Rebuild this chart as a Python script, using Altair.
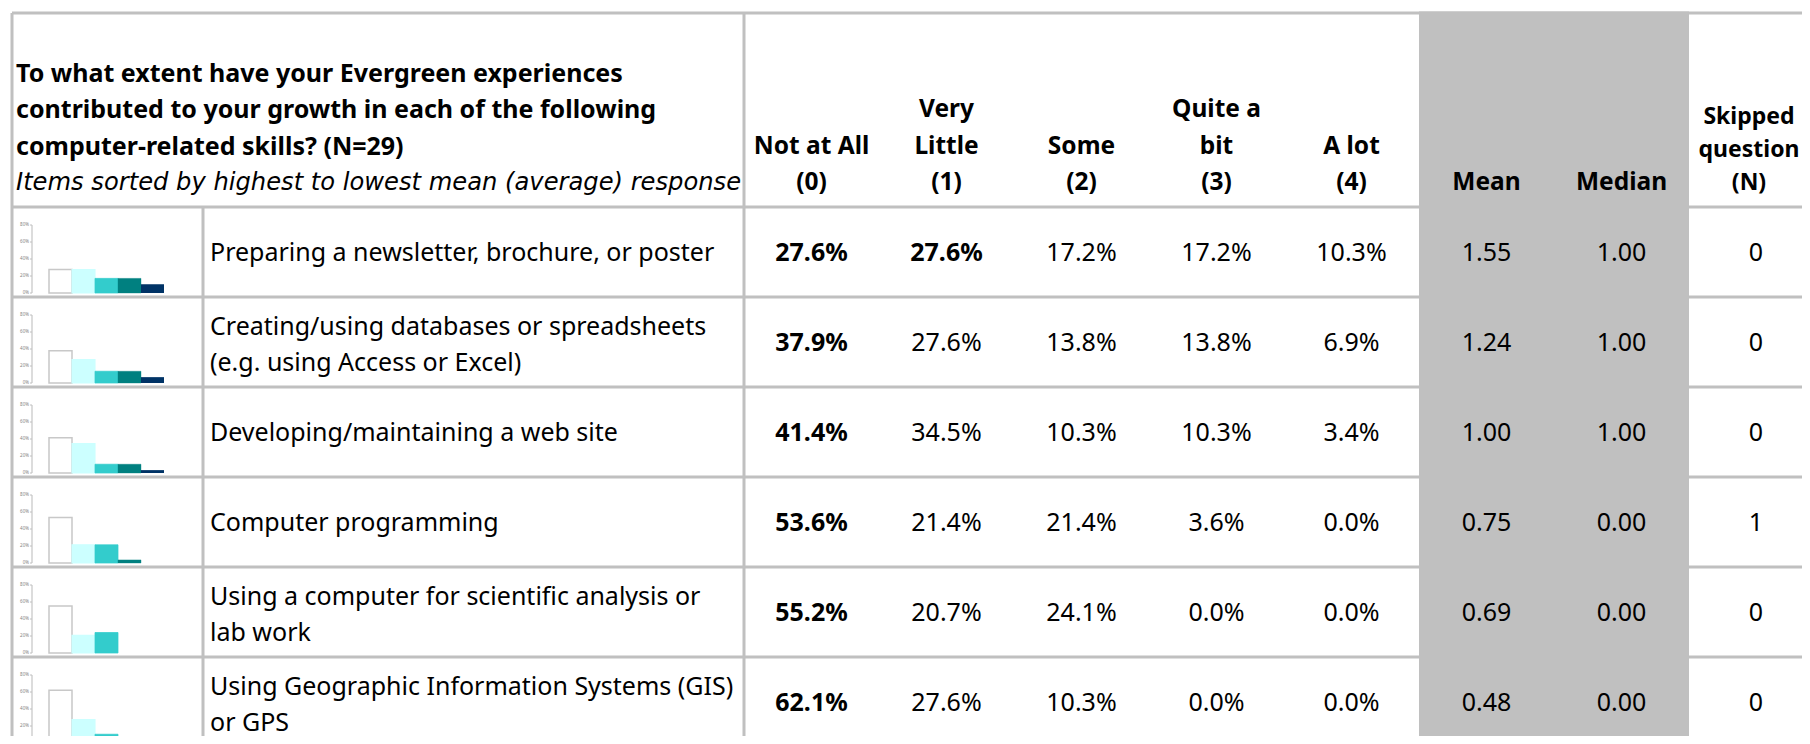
import altair as alt
import pandas as pd

# ---------------- data ----------------
items = [
    ["Preparing a newsletter, brochure, or poster"],
    ["Creating/using databases or spreadsheets", "(e.g. using Access or Excel)"],
    ["Developing/maintaining a web site"],
    ["Computer programming"],
    ["Using a computer for scientific analysis or", "lab work"],
    ["Using Geographic Information Systems (GIS)", "or GPS"],
]
not_at_all = [27.6, 37.9, 41.4, 53.6, 55.2, 62.1]
very_little = [27.6, 27.6, 34.5, 21.4, 20.7, 27.6]
some = [17.2, 13.8, 10.3, 21.4, 24.1, 10.3]
quite_a_bit = [17.2, 13.8, 10.3, 3.6, 0.0, 0.0]
a_lot = [10.3, 6.9, 3.4, 0.0, 0.0, 0.0]
mean = [1.55, 1.24, 1.00, 0.75, 0.69, 0.48]
median = [1.00, 1.00, 1.00, 0.00, 0.00, 0.00]
skipped = [0, 0, 0, 1, 0, 0]

categories = ["Not at All (0)", "Very Little (1)", "Some (2)", "Quite a bit (3)", "A lot (4)"]
header_cols = [
    ["Not at All", "(0)"],
    ["Very", "Little", "(1)"],
    ["Some", "(2)"],
    ["Quite a", "bit", "(3)"],
    ["A lot", "(4)"],
    ["Mean"],
    ["Median"],
]
skipped_header = ["Skipped", "question", "(N)"]
question_lines = [
    "To what extent have your Evergreen experiences",
    "contributed to your growth in each of the following",
    "computer-related skills? (N=29)",
]
note_line = "Items sorted by highest to lowest mean (average) response"
mini_ticks = [0, 20, 40, 60, 80]

# ---------------- layout ----------------
PAGE = 8
W, H = 1794, 728
TOP = 13
HEAD_BOTTOM = 207
ROW_H = 90
LEFT = 12
CHART_DIV = 203
LABEL_DIV = 744
COL_W = 135
RIGHT = 1812
BOTTOM = 746
LINE_H = 36.5
HEAD_LAST = 183
SKIP_LINE_H = 33
SKIP_HEAD_X = 1749
ROW_LINE_H = 36
BAR_X0 = 49
BAR_W = 23
BASE_OFF = 86
PX_PER_PCT = 0.85
AXIS_X = 32

FONT = "Noto Sans"
GRID = "#c0c0c0"

pct = [not_at_all, very_little, some, quite_a_bit, a_lot]
n_rows = len(items)


def col_center(j):
    return LABEL_DIV + COL_W * (j + 0.5)


# grid lines
hlines = [TOP] + [HEAD_BOTTOM + k * ROW_H for k in range(n_rows + 1)]
grid_df = pd.DataFrame(
    [dict(x=LEFT, x2=RIGHT, y=y, y2=y) for y in hlines]
    + [
        dict(x=LEFT, x2=LEFT, y=TOP, y2=BOTTOM),
        dict(x=LABEL_DIV, x2=LABEL_DIV, y=TOP, y2=BOTTOM),
        dict(x=CHART_DIV, x2=CHART_DIV, y=HEAD_BOTTOM, y2=BOTTOM),
    ]
)
gray_df = pd.DataFrame([dict(x=LABEL_DIV + 5 * COL_W, x2=LABEL_DIV + 7 * COL_W, y=TOP - 1.5, y2=BOTTOM)])

# header texts
head_rows = []
for k, t in enumerate(question_lines):
    head_rows.append(dict(x=16, y=HEAD_LAST - (len(question_lines) - k) * LINE_H, t=t))
head_left = pd.DataFrame(head_rows)
note_df = pd.DataFrame([dict(x=16, y=HEAD_LAST, t=note_line)])
hc = []
for j, lines in enumerate(header_cols):
    n = len(lines)
    for k, t in enumerate(lines):
        hc.append(dict(x=col_center(j), y=HEAD_LAST - (n - 1 - k) * LINE_H, t=t))
head_cols_df = pd.DataFrame(hc)
skip_head_df = pd.DataFrame([
    dict(x=SKIP_HEAD_X, y=HEAD_LAST - (len(skipped_header) - 1 - k) * SKIP_LINE_H, t=t)
    for k, t in enumerate(skipped_header)
])

# row labels
lab = []
for i, lines in enumerate(items):
    c = HEAD_BOTTOM + ROW_H * (i + 0.5) + 1
    n = len(lines)
    for k, t in enumerate(lines):
        lab.append(dict(x=210, y=c + (k - (n - 1) / 2) * ROW_LINE_H + (2 if n > 1 else 0), t=t))
labels_df = pd.DataFrame(lab)

# values
vals = []
bars = []
ticks = []
for i in range(n_rows):
    top = HEAD_BOTTOM + ROW_H * i
    c = top + ROW_H / 2 + 1
    rowmax = max(p[i] for p in pct)
    for j in range(5):
        v = pct[j][i]
        vals.append(dict(x=col_center(j), y=c, t=f"{v:.1f}%", bold=bool(v == rowmax)))
        if v > 0:
            bars.append(dict(cat=categories[j], x=BAR_X0 + BAR_W * j, x2=BAR_X0 + BAR_W * (j + 1),
                             base=top + BASE_OFF, value=v))
    vals.append(dict(x=col_center(5), y=c, t=f"{mean[i]:.2f}", bold=False))
    vals.append(dict(x=col_center(6), y=c, t=f"{median[i]:.2f}", bold=False))
    vals.append(dict(x=col_center(7) - 0.5, y=c, t=f"{skipped[i]}", bold=False))
    for tv in mini_ticks:
        ticks.append(dict(base=top + BASE_OFF, value=tv, t=f"{tv}%"))
vals_df = pd.DataFrame(vals)
bars_df = pd.DataFrame(bars)
ticks_df = pd.DataFrame(ticks)
axis_df = pd.DataFrame([dict(base=HEAD_BOTTOM + ROW_H * i + BASE_OFF, value=80) for i in range(n_rows)])

X = alt.Scale(domain=[PAGE, PAGE + W])
Y = alt.Scale(domain=[PAGE, PAGE + H], reverse=True)


def xq(f):
    return alt.X(f, type="quantitative", scale=X, axis=None)


def yq(f):
    return alt.Y(f, type="quantitative", scale=Y, axis=None)


grid = alt.Chart(grid_df).mark_rule(color=GRID, strokeWidth=3, clip=True).encode(
    x=xq("x"), x2="x2", y=yq("y"), y2="y2")
gray = alt.Chart(gray_df).mark_rect(color="#c0c0c0", clip=True).encode(
    x=xq("x"), x2="x2", y=yq("y"), y2="y2")

txt_common = dict(color="#000000", baseline="middle", clip=True)
head_left_l = alt.Chart(head_left).mark_text(align="left", font=FONT, fontSize=25, fontWeight="bold", **txt_common).encode(
    x=xq("x"), y=yq("y"), text="t:N")
note_l = alt.Chart(note_df).mark_text(align="left", font="DejaVu Sans", fontSize=24.2, fontStyle="italic", **txt_common).encode(
    x=xq("x"), y=yq("y"), text="t:N")
head_cols_l = alt.Chart(head_cols_df).mark_text(
    align="center", font=FONT, fontSize=24.5, fontWeight="bold", **txt_common).encode(
    x=xq("x"), y=yq("y"), text="t:N")
head_skip_l = alt.Chart(skip_head_df).mark_text(
    align="center", font=FONT, fontSize=23, fontWeight="bold", **txt_common).encode(
    x=xq("x"), y=yq("y"), text="t:N")
labels_l = alt.Chart(labels_df).mark_text(align="left", font=FONT, fontSize=25, **txt_common).encode(
    x=xq("x"), y=yq("y"), text="t:N")
vals_bold = alt.Chart(vals_df).transform_filter("datum.bold").mark_text(
    align="center", font=FONT, fontSize=25, fontWeight="bold", **txt_common).encode(x=xq("x"), y=yq("y"), text="t:N")
vals_norm = alt.Chart(vals_df).transform_filter("!datum.bold").mark_text(
    align="center", font=FONT, fontSize=25, **txt_common).encode(x=xq("x"), y=yq("y"), text="t:N")

fill_scale = alt.Scale(domain=categories, range=["#ffffff", "#ccffff", "#33cccc", "#008080", "#003366"])
stroke_scale = alt.Scale(domain=categories, range=["#c8c8c8", "#ccffff", "#33cccc", "#008080", "#000000"])
sw_scale = alt.Scale(domain=categories, range=[1.5, 0, 0, 0, 3])

bars_l = alt.Chart(bars_df).transform_calculate(
    ytop=f"datum.base - datum.value * {PX_PER_PCT}"
).mark_rect(clip=True).encode(
    x=xq("x"), x2="x2", y=yq("ytop"), y2="base",
    fill=alt.Fill("cat:N", scale=fill_scale, legend=None),
    stroke=alt.Stroke("cat:N", scale=stroke_scale, legend=None),
    strokeWidth=alt.StrokeWidth("cat:N", scale=sw_scale, legend=None),
)

axis_l = alt.Chart(axis_df).transform_calculate(
    ytop=f"datum.base - datum.value * {PX_PER_PCT}", ax=str(AXIS_X)
).mark_rule(color="#d0d0d0", strokeWidth=1.5, clip=True).encode(
    x=xq("ax:Q"), y=yq("ytop"), y2="base")

tick_marks = alt.Chart(ticks_df).transform_calculate(
    yy=f"datum.base - datum.value * {PX_PER_PCT}", a=str(AXIS_X - 2), b=str(AXIS_X)
).mark_rule(color="#c0c0c0", strokeWidth=1, clip=True).encode(
    x=xq("a:Q"), x2="b:Q", y=yq("yy"))

tick_text = alt.Chart(ticks_df).transform_calculate(
    yy=f"datum.base - datum.value * {PX_PER_PCT}", a=str(AXIS_X - 3)
).mark_text(align="right", baseline="middle", fontSize=4.5, font=FONT, color="#7f7f7f", clip=True).encode(
    x=xq("a:Q"), y=yq("yy"), text="t:N")

chart = alt.layer(
    grid, gray, axis_l, tick_marks, tick_text, bars_l,
    head_left_l, note_l, head_cols_l, head_skip_l, labels_l, vals_bold, vals_norm,
).properties(width=W, height=H, padding=0, background="#ffffff").configure_view(strokeWidth=0)

chart.save("out.html", embed_options={"renderer": "svg", "actions": False})
